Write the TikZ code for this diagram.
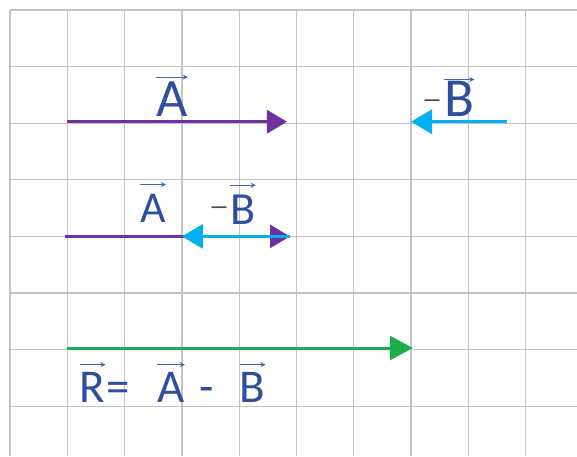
\documentclass[tikz,border=0pt]{standalone}
\usepackage{fontspec}
\usepackage{graphicx}
\setmainfont{Carlito}
\usetikzlibrary{arrows.meta}
\definecolor{gridgray}{HTML}{C4C4C4}
\definecolor{vecpurple}{HTML}{7030A0}
\definecolor{veccyan}{HTML}{00B0F0}
\definecolor{vecgreen}{HTML}{1AAF4C}
\definecolor{lblblue}{HTML}{2E4E9E}
\definecolor{ovblue}{HTML}{3F66B8}
\begin{document}
\begin{tikzpicture}[x=57.3pt,y=56.6pt,
  gridline/.style={draw=gridgray,line width=1.3pt},
  vecpurp/.style={draw=vecpurple,line width=3pt,-{Triangle[length=20pt,width=23pt]}},
  veccy/.style={draw=veccyan,line width=3pt,-{Triangle[length=21pt,width=24pt]}},
  vecgr/.style={draw=vecgreen,line width=3pt,-{Triangle[length=23pt,width=24pt]}},
  lbl/.style={text=lblblue,inner sep=0pt,anchor=base},
  negsign/.style={text=black!70,inner sep=0pt,anchor=base,font=\fontsize{28}{28}\selectfont},
  ovarrow/.style={draw=ovblue,line width=1.2pt,-{Stealth[length=5pt,width=5pt]}}]
\useasboundingbox (-0.1745,0.1767) rectangle (9.895,-7.880);
% grid
\foreach \i in {0,...,9}
  \draw[gridline] (\i,0) -- (\i,-7.880);
\foreach \j in {0,...,7}
  \draw[gridline] (0,-\j) -- (9.895,-\j);
% first row: A and -B
\coordinate (a1s) at (0.995,-1.974);
\coordinate (a1e) at (4.834,-1.974);
\draw[vecpurp] (a1s) -- (a1e);
\coordinate (b1s) at (8.674,-1.974);
\coordinate (b1e) at (6.998,-1.974);
\draw[veccy] (b1s) -- (b1e);
\node[lbl,font=\fontsize{54}{54}\selectfont] (tA) at (2.827,-1.890) {A};
\draw[ovarrow] ([yshift=5pt]tA.north west) -- ([yshift=5pt]tA.north east);
\node[negsign] (tNeg) at (7.365,-1.745) {\scalebox{1.5}[1]{–}};
\node[lbl,font=\fontsize{55}{55}\selectfont] (tB) at (7.84,-1.890) {B};
\draw[ovarrow] ([yshift=2pt]tB.north west) -- ([yshift=2pt]tB.north east);
% second row: A + (-B)
\coordinate (a2s) at (0.96,-4);
\coordinate (a2e) at (4.887,-4);
\draw[vecpurp] (a2s) -- (a2e);
\coordinate (b2e) at (3.0,-4);
\draw[veccy] (a2e) -- (b2e);
\node[lbl,font=\fontsize{44}{44}\selectfont] (mA) at (2.496,-3.763) {A};
\draw[ovarrow] ([yshift=10pt]mA.north west) -- ([yshift=10pt]mA.north east);
\node[negsign] (mNeg) at (3.648,-3.635) {\scalebox{1.5}[1]{–}};
\node[lbl,font=\fontsize{46}{46}\selectfont] (mB) at (4.066,-3.781) {B};
\draw[ovarrow] ([yshift=9pt]mB.north west) -- ([yshift=9pt]mB.north east);
% resultant
\coordinate (rs) at (1.0,-5.972);
\coordinate (re) at (7.03,-5.972);
\draw[vecgr] (rs) -- (re);
\begin{scope}[every node/.style={lbl,font=\fontsize{47}{47}\selectfont}]
\node (rR) at (1.440,-6.943) {R};
\node (rEq) at (1.894,-6.943) {=};
\node (rA) at (2.810,-6.943) {A};
\node (rMin) at (3.429,-6.943) {-};
\node (rB) at (4.232,-6.943) {B};
\end{scope}
\draw[ovarrow] ([yshift=8pt]rR.north west) -- ([yshift=8pt]rR.north east);
\draw[ovarrow] ([yshift=8pt]rA.north west) -- ([yshift=8pt]rA.north east);
\draw[ovarrow] ([yshift=8pt]rB.north west) -- ([yshift=8pt]rB.north east);
\end{tikzpicture}
\end{document}
